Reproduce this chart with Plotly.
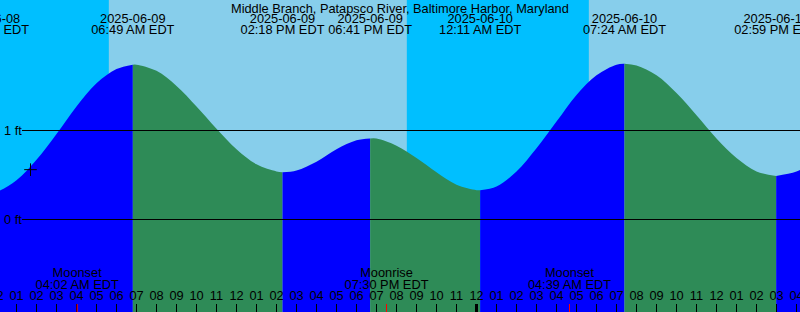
import plotly.graph_objects as go
import pandas as pd

TITLE = "Middle Branch, Patapsco River, Baltimore Harbor, Maryland"

# Tide extremes (local time, EDT) and heights in feet
tide_times = ["2025-06-08 23:33", "2025-06-09 06:49", "2025-06-09 14:18", "2025-06-09 18:41",
              "2025-06-10 00:11", "2025-06-10 07:24", "2025-06-10 14:59", "2025-06-10 19:48"]
tide_heights = [0.30, 1.74, 0.53, 0.91, 0.33, 1.75, 0.49, 0.92]

# Tide height at each full hour, starting at hour_start
hour_start = "2025-06-09 00:00"
hourly_heights = [0.31, 0.44, 0.67, 0.96, 1.27, 1.53, 1.69, 1.74, 1.67, 1.50,
                  1.27, 1.02, 0.79, 0.62, 0.54, 0.55, 0.65, 0.79, 0.89, 0.91,
                  0.83, 0.69, 0.53, 0.39, 0.33, 0.37, 0.54, 0.80, 1.10, 1.40,
                  1.62, 1.74, 1.73, 1.62, 1.42, 1.17, 0.91, 0.69, 0.54, 0.49,
                  0.54, 0.65]

sunrise_times = ["2025-06-09 05:37", "2025-06-10 05:37"]
sunset_times = ["2025-06-09 20:31", "2025-06-10 20:31"]

moon_times = ["2025-06-09 04:02", "2025-06-09 19:30", "2025-06-10 04:39"]
moon_events = ["Moonset", "Moonrise", "Moonset"]

mark_time = "2025-06-09 01:42"
mark_height = 0.56

level_values = [1, 0]
level_labels = ["1 ft", "0 ft"]

x_start = "2025-06-09 00:10:30"
x_end = "2025-06-10 16:10:30"

# styling
NIGHT = "#00BFFF"
DAY = "#87CEEB"
RISE = "#0000FF"
FALL = "#2E8B57"
FONT = dict(family="Liberation Sans, Arial, sans-serif", size=12.8, color="black")
W, H = 800, 312
PX_PER_FT = 89.0
ZERO_PX = 219.5
Y_RANGE = [(ZERO_PX - H) / PX_PER_FT, ZERO_PX / PX_PER_FT]
FLOOR = Y_RANGE[0] - 0.5

fig = go.Figure()

tt = pd.to_datetime(tide_times)
hh = pd.date_range(hour_start, periods=len(hourly_heights), freq="h")
margin = pd.Timedelta(minutes=6)

for i in range(len(tt) - 1):
    a, b = tt[i], tt[i + 1]
    xs, ys = [a], [tide_heights[i]]
    for t, h in zip(hh, hourly_heights):
        if a + margin < t < b - margin:
            xs.append(t)
            ys.append(h)
    xs.append(b)
    ys.append(tide_heights[i + 1])
    color = RISE if tide_heights[i + 1] > tide_heights[i] else FALL
    fig.add_trace(go.Scatter(x=[a, b], y=[FLOOR, FLOOR], mode="lines",
                             line=dict(width=0), hoverinfo="skip", showlegend=False))
    fig.add_trace(go.Scatter(x=xs, y=ys, mode="lines",
                             line=dict(width=0, shape="spline", color=color),
                             fill="tonexty", fillcolor=color,
                             hoverinfo="skip", showlegend=False))

# "+" mark
fig.add_trace(go.Scatter(x=[mark_time], y=[mark_height], mode="markers",
                         marker=dict(symbol="cross-thin", size=9,
                                     line=dict(width=1, color="black")),
                         hoverinfo="skip", showlegend=False))

# tide event labels (top)
fig.add_trace(go.Scatter(x=tt, y=[19.5] * len(tt), yaxis="y2", mode="text",
                         text=[t.strftime("%Y-%m-%d") for t in tt],
                         textposition="middle center", textfont=FONT,
                         hoverinfo="skip", showlegend=False))
fig.add_trace(go.Scatter(x=tt, y=[31.3] * len(tt), yaxis="y2", mode="text",
                         text=[t.strftime("%I:%M %p") + " EDT" for t in tt],
                         textposition="middle center", textfont=FONT,
                         hoverinfo="skip", showlegend=False))

# moon labels (bottom)
mt = pd.to_datetime(moon_times)
fig.add_trace(go.Scatter(x=mt, y=[274] * len(mt), yaxis="y2", mode="text",
                         text=moon_events, textposition="middle center", textfont=FONT,
                         hoverinfo="skip", showlegend=False))
fig.add_trace(go.Scatter(x=mt, y=[285.5] * len(mt), yaxis="y2", mode="text",
                         text=[t.strftime("%I:%M %p") + " EDT" for t in mt],
                         textposition="middle center", textfont=FONT,
                         hoverinfo="skip", showlegend=False))

# hour labels
hours = pd.date_range(pd.Timestamp(x_start).floor("h"), pd.Timestamp(x_end).ceil("h"), freq="h")
fig.add_trace(go.Scatter(x=hours, y=[297] * len(hours), yaxis="y2", mode="text",
                         text=[t.strftime("%I") for t in hours],
                         textposition="middle center", textfont=FONT,
                         hoverinfo="skip", showlegend=False))

shapes = []
# daylight bands
for sr, ss in zip(sunrise_times, sunset_times):
    shapes.append(dict(type="rect", xref="x", yref="paper", x0=sr, x1=ss, y0=0, y1=1,
                       fillcolor=DAY, line=dict(width=0), layer="below"))
# level lines
for v in level_values:
    shapes.append(dict(type="line", xref="paper", yref="y", x0=22 / W, x1=1, y0=v, y1=v,
                       line=dict(color="black", width=1), layer="above"))
# moon ticks
for t in mt:
    shapes.append(dict(type="line", xref="x", yref="paper", x0=t, x1=t, y0=0, y1=8 / H,
                       line=dict(color="red", width=1), layer="above"))
# midnight ticks
for t in hours:
    if t.hour == 0:
        shapes.append(dict(type="line", xref="x", yref="paper", x0=t, x1=t, y0=0, y1=8 / H,
                           line=dict(color="black", width=3), layer="above"))

annotations = [dict(text=TITLE, xref="paper", yref="paper", x=0.5, y=1 - 8 / H,
                    xanchor="center", yanchor="middle", showarrow=False, font=FONT)]
for v, lab in zip(level_values, level_labels):
    annotations.append(dict(text=lab, xref="paper", yref="y", x=2 / W, y=v,
                            xanchor="left", yanchor="middle", showarrow=False, font=FONT))

fig.update_layout(
    width=W, height=H, autosize=False,
    margin=dict(l=0, r=0, t=0, b=0, pad=0),
    paper_bgcolor=NIGHT, plot_bgcolor=NIGHT,
    showlegend=False,
    shapes=shapes, annotations=annotations,
    xaxis=dict(type="date", range=[x_start, x_end], ticks="inside", ticklen=8, tickwidth=1,
               tickcolor="black", dtick=3600000, tick0="2025-06-09 00:00",
               showticklabels=False, showgrid=False, zeroline=False, showline=False,
               fixedrange=True),
    yaxis=dict(range=Y_RANGE, visible=False, fixedrange=True),
    yaxis2=dict(range=[H, 0], overlaying="y", visible=False, fixedrange=True),
)

fig.write_html("out.html", config={"displayModeBar": False})
